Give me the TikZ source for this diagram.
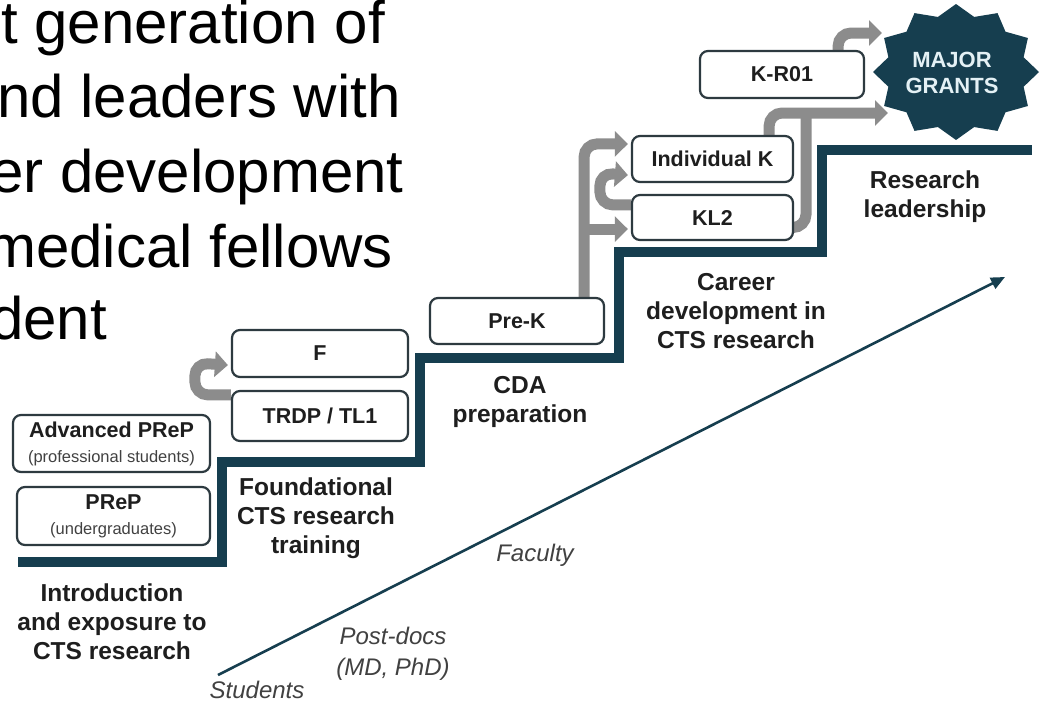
\documentclass[tikz,border=0pt]{standalone}
\usepackage{fontspec}
\setmainfont{Liberation Sans}
\usetikzlibrary{arrows.meta,calc}
\pgfdeclarelayer{paper}
\pgfdeclarelayer{under}
\pgfsetlayers{paper,under,main}
\definecolor{stairteal}{RGB}{22,62,79}
\definecolor{arrowgray}{RGB}{140,140,140}
\definecolor{boxline}{RGB}{45,58,64}
\definecolor{inktext}{RGB}{30,30,30}
\definecolor{softtext}{RGB}{65,65,65}
\definecolor{startext}{RGB}{228,241,245}
\newcommand\prepsub{\fontsize{16.5}{18}\selectfont\mdseries\color{softtext}}

\begin{document}
\begin{tikzpicture}[x=1pt,y=-1pt,
  stepbox/.style={draw=boxline, line width=2.2pt, rounded corners=8pt, fill=white,
    inner sep=0pt, align=center, text=inktext,
    font=\fontsize{21.5}{24}\selectfont\bfseries},
  stage/.style={align=center, text=inktext, font=\fontsize{24.5}{29}\selectfont\bfseries},
  who/.style={align=center, text=softtext, font=\fontsize{24}{31}\selectfont\itshape},
  headline/.style={anchor=base west, inner sep=0pt, font=\fontsize{60}{60}\selectfont},
  flow/.style={draw=arrowgray, line width=11pt, rounded corners=13pt,
    -{Triangle[width=25pt,length=13pt]}},
  flowline/.style={draw=arrowgray, line width=11pt, rounded corners=13pt},
  stair/.style={draw=stairteal, line width=10pt, line join=miter},
]
\useasboundingbox (0,0) rectangle (1042,702);
\begin{pgfonlayer}{paper}
  \fill[white] (0,0) rectangle (1042,702);
\end{pgfonlayer}
\clip (0,0) rectangle (1042,702);

% heading text running in from the left
\node[headline] (t1) at (1,43)  {t generation of};
\node[headline] (t2) at (-3,117) {nd leaders with};
\node[headline] (t3) at (-10,192) {er development};
\node[headline] (t4) at (-14,267) {medical fellows};
\node[headline] (t5) at (-10,339) {dent};

% the staircase
\draw[stair] (18,562) -- (222,562) -- (222,462) -- (420,462) -- (420,358)
  -- (619,358) -- (619,252) -- (822,252) -- (822,150) -- (1032,150);

% programme boxes
\node[stepbox, minimum width=193pt, minimum height=58pt] (prep) at (113.5,516)
  {PReP\\[1pt]{\prepsub(undergraduates)}};
\node[stepbox, minimum width=197pt, minimum height=57pt] (adv) at (111.5,443.5)
  {Advanced PReP\\[1pt]{\prepsub(professional students)}};
\node[stepbox, minimum width=176pt, minimum height=50pt] (trdp) at (320,416) {TRDP / TL1};
\node[stepbox, minimum width=176pt, minimum height=47pt] (fel) at (320,353.5) {F};
\node[stepbox, minimum width=174pt, minimum height=46pt] (prek) at (517,321) {Pre-K};
\node[stepbox, minimum width=161pt, minimum height=45pt] (kl2) at (712.5,217.5) {KL2};
\node[stepbox, minimum width=161pt, minimum height=46pt] (indk) at (712.5,159) {Individual K};
\node[stepbox, minimum width=164pt, minimum height=47pt] (kr01) at (782,74.5) {K-R01};

% seal
\coordinate (sc) at (956,72);
\fill[stairteal] plot[samples at={0,...,23}]
  ({956+ifthenelse(mod(\x,2)==0,83,70)*cos(90+15*\x)},
   {72-ifthenelse(mod(\x,2)==0,68,57)*sin(90+15*\x)}) -- cycle;
\node[font=\fontsize{22}{26}\selectfont\bfseries, text=startext, align=center]
  (grants) at (952,73) {MAJOR\\GRANTS};
\coordinate (gin1) at ($(sc)+(-74,-39)$);
\coordinate (gin2) at ($(sc)+(-68,41)$);

% stage labels
\node[stage] (s1) at (112,622) {Introduction\\and exposure to\\CTS research};
\node[stage] (s2) at (316,518) {Foundational\\CTS research\\training};
\node[stage] (s3) at (520,402) {CDA\\preparation};
\node[stage] (s4) at (736,311) {Career\\development in\\CTS research};
\node[stage] (s5) at (925,197) {Research\\leadership};

% career axis
\coordinate (lo) at (218,675);
\coordinate (hi) at (1005,277);
\draw[stairteal, line width=2.6pt, -{Triangle[length=14pt,width=12pt]}] (lo) -- (hi);
\node[who] (w1) at (257,690) {Students};
\node[who] (w2) at (393,654) {Post-docs\\(MD, PhD)};
\node[who] (w3) at (535,555) {Faculty};

% progression arrows, kept under the boxes
\begin{pgfonlayer}{under}
  \draw[flow] ($(trdp.north west)+(0,5)$) -- ++(-36,0) -- ++(0,-32)
    -- ($(fel.south west)+(-3,-13)$);
  \coordinate (trunk) at ($(prek.north east)+(-21,0)$);
  \coordinate (kl2in) at ($(kl2.south west)+(-3,-12)$);
  \draw[flow] (trunk) |- ($(indk.north west)+(-3,9)$);
  \draw[flow] (trunk |- kl2in) -- (kl2in);
  \draw[flow] ($(kl2.north west)+(0,11)$) -- ++(-31,0) -- ++(0,-32)
    -- ($(indk.south west)+(-3,-8)$);
  \draw[flowline] ($(kl2.east)+(0,10)$) -| ($(gin2)+(-82,0)$);
  \draw[flow] ($(indk.north east)+(-25,0)$) |- (gin2);
  \draw[flow] ($(kr01.north east)+(-27,0)$) |- (gin1);
\end{pgfonlayer}
\end{tikzpicture}
\end{document}
